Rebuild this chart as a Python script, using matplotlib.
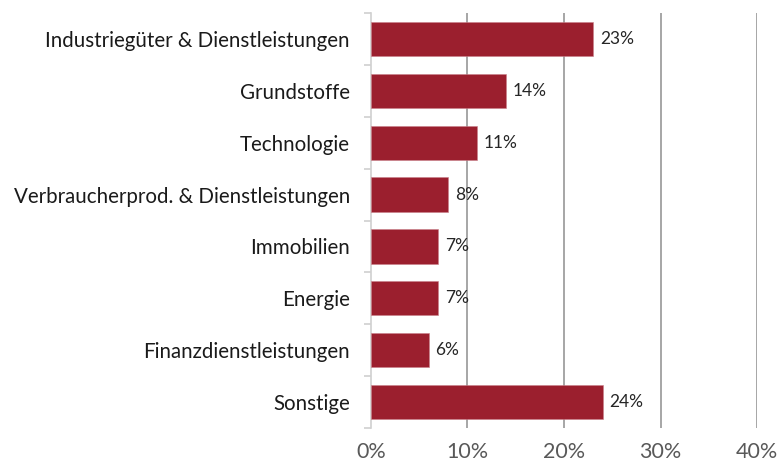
import matplotlib
matplotlib.use("Agg")
import matplotlib.pyplot as plt
import numpy as np

categories = [
    "Industriegüter & Dienstleistungen",
    "Grundstoffe",
    "Technologie",
    "Verbraucherprod. & Dienstleistungen",
    "Immobilien",
    "Energie",
    "Finanzdienstleistungen",
    "Sonstige",
]
values = [23, 14, 11, 8, 7, 7, 6, 24]
xticks = [0, 10, 20, 30, 40]

plt.rcParams["font.family"] = ["Lato", "DejaVu Sans"]

fig = plt.figure(figsize=(7.79, 4.67), dpi=100)
ax = fig.add_axes([0.476, 0.0835, 0.496, 0.8885])

y = np.arange(len(categories))
bars = ax.barh(y, values, height=0.66, color="#9b1f2e", edgecolor="#c9808a",
               linewidth=0.4, zorder=3)

for b, v in zip(bars, values):
    ax.text(b.get_width() + 0.7, b.get_y() + b.get_height() / 2, f"{v}%",
            va="center", ha="left", fontsize=12.5, color="#262626")

ax.set_xlim(0, 40)
ax.set_ylim(len(categories) - 0.5, -0.5)
ax.set_xticks(xticks)
ax.set_xticklabels([f"{t}%" for t in xticks], fontsize=15.5, color="#595959")
ax.set_yticks(y)
ax.set_yticklabels(categories, fontsize=14.8, color="#1a1a1a")

# gridlines
for t in xticks[1:]:
    ax.axvline(t, color="#a6a6a6", linewidth=1.4, zorder=1)

for s in ["top", "right", "bottom"]:
    ax.spines[s].set_visible(False)
ax.spines["left"].set_color("#d0d0d0")
ax.spines["left"].set_linewidth(1.2)

ax.tick_params(axis="x", length=0, pad=10)
ax.tick_params(axis="y", length=0, pad=15)
# small ticks on category boundaries
ax.set_yticks(np.arange(len(categories) + 1) - 0.5, minor=True)
ax.tick_params(axis="y", which="minor", length=5, color="#d0d0d0", width=1.2)

fig.savefig("out.png", dpi=100)
